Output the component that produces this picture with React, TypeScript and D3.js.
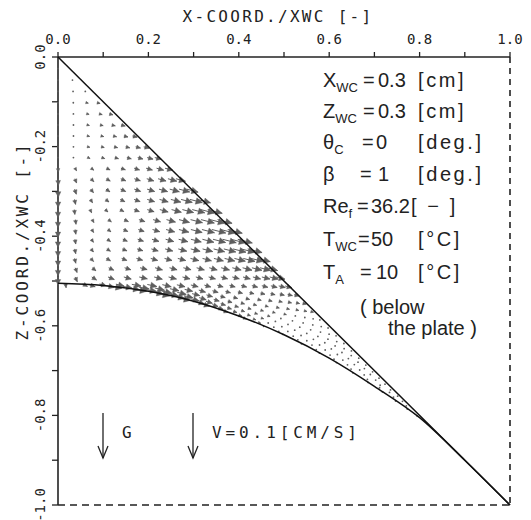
import React from "react";
import * as d3 from "d3";

const W = 531;
const H = 520;

// axis ticks
const xMajor = [0, 0.2, 0.4, 0.6, 0.8, 1.0];
const xMajorLabels = ["0.0", "0.2", "0.4", "0.6", "0.8", "1.0"];
const xMinor = [0.1, 0.3, 0.5, 0.7, 0.9];
const zMajor = [0, -0.2, -0.4, -0.6, -0.8, -1.0];
const zMajorLabels = ["0.0", "-0.2", "-0.4", "-0.6", "-0.8", "-1.0"];
const zMinor = [-0.1, -0.3, -0.5, -0.7, -0.9];

// geometry: plate (straight) and free surface below it
const plateX = [0, 1];
const plateZ = [0, -1];
const surfX = [0, 0.1, 0.2, 0.3, 0.4, 0.5, 0.6, 0.7, 0.8, 0.9, 1.0];
const surfZ = [-0.505, -0.51, -0.523, -0.545, -0.578, -0.62, -0.672, -0.735, -0.805, -0.9, -1.0];
const contactX = 0.808;
const axisBottomZ = -0.505;

// parameter block
const paramNames = ["X", "Z", "θ", "β", "Re", "T", "T"];
const paramSubs = ["WC", "WC", "C", "", "f", "WC", "A"];
const paramValues = ["0.3", "0.3", "0", "1", "36.2", "50", "10"];
const paramUnits = ["[cm]", "[cm]", "[deg.]", "[deg.]", "[ − ]", "[°C]", "[°C]"];
const noteLines = ["( below", "the plate )"];

const xTitle = "X-COORD./XWC [-]";
const zTitle = "Z-COORD./XWC [-]";
const gLabel = "G";
const vLabel = "V=0.1[CM/S]";

const x = d3.scaleLinear().domain([0, 1]).range([58, 510]);
const z = d3.scaleLinear().domain([0, -1]).range([57, 505]);

const surfInterp = (xx: number) => {
  for (let i = 0; i < surfX.length - 1; i++) {
    if (xx <= surfX[i + 1]) {
      const t = (xx - surfX[i]) / (surfX[i + 1] - surfX[i]);
      return surfZ[i] + t * (surfZ[i + 1] - surfZ[i]);
    }
  }
  return surfZ[surfZ.length - 1];
};
const smooth = (a: number, b: number, v: number) => {
  const t = Math.max(0, Math.min(1, (v - a) / (b - a)));
  return t * t * (3 - 2 * t);
};

// velocity estimate (px on screen, dy positive downwards)
function velocity(px: number, pz: number) {
  const depth = -pz;
  const wAx = Math.exp(-px / 0.07);
  const axisAmp = 8 * smooth(0.2, 0.3, depth) * (1 - smooth(0.49, 0.53, depth));
  let vx = 0;
  let vy = axisAmp * wAx;
  const u = depth > 0 ? Math.min(1, px / depth) : 0;
  const plateAmp =
    12 * Math.exp(-Math.pow((depth - 0.38) / 0.12, 2)) +
    5 * (1 - smooth(0.45, 0.62, depth)) * smooth(0, 0.14, depth);
  const floor = 0.3 * (1 - smooth(0.27, 0.35, depth));
  const mp = plateAmp * (floor + (1 - floor) * Math.pow(u, 1.6)) * (1 - 0.85 * wAx);
  const ap = (14 * Math.PI) / 180;
  vx += mp * Math.cos(ap);
  vy += mp * Math.sin(ap);
  const ds = pz - surfInterp(px);
  const S = 10 * Math.exp(-Math.pow((px - 0.2) / 0.17, 2)) * smooth(0.0, 0.06, px);
  const ms = S * Math.exp(-Math.max(0, ds) / 0.07);
  const slope = (surfInterp(px + 0.01) - surfInterp(Math.max(0, px - 0.01))) / 0.02;
  const as = Math.atan2(-slope, 1);
  vx += ms * Math.cos(as);
  vy += ms * Math.sin(as);
  return [vx, vy];
}

type Arrow = { x: number; y: number; dx: number; dy: number };

function buildField(): Arrow[] {
  const out: Arrow[] = [];
  const NR = 42;
  for (let k = 1; k < NR; k++) {
    const t = 1 - Math.pow(1 - k / NR, 1.35);
    const zp = -contactX * t;
    const P = [-zp, zp];
    let L: number[];
    if (-zp <= -axisBottomZ) L = [0, zp];
    else {
      const f = (-zp + axisBottomZ) / (contactX + axisBottomZ);
      const xl = contactX * f;
      L = [xl, surfInterp(xl)];
    }
    const len = Math.hypot(P[0] - L[0], P[1] - L[1]);
    const n = Math.floor(len / 0.028);
    for (let i = 0; i <= n; i++) {
      const u = 1 - Math.pow(1 - i / (n + 1), 1.4);
      const px = L[0] + u * (P[0] - L[0]);
      const pz = L[1] + u * (P[1] - L[1]);
      const [vx, vy] = velocity(px, pz);
      out.push({ x: x(px), y: z(pz), dx: vx, dy: vy });
    }
  }
  return out;
}

const ARROW = "#5e5e5e";

function ArrowGlyph({ a }: { a: Arrow }) {
  let len = Math.hypot(a.dx, a.dy);
  if (len < 1.6) return <circle cx={a.x} cy={a.y} r={0.9} fill={ARROW} />;
  const k = Math.min(1, 15 / len);
  const dx = a.dx * k;
  const dy = a.dy * k;
  len = Math.min(len, 15);
  const ux = dx / len;
  const uy = dy / len;
  const tx = a.x + dx;
  const ty = a.y + dy;
  const h = Math.min(6.5, 1.8 + len * 0.45);
  const hw = h * 0.5;
  const bx = tx - ux * h;
  const by = ty - uy * h;
  const pts = `${tx},${ty} ${bx - uy * hw},${by + ux * hw} ${bx + uy * hw},${by - ux * hw}`;
  return (
    <g>
      <line x1={a.x} y1={a.y} x2={tx} y2={ty} stroke={ARROW} strokeWidth={1} />
      <polygon points={pts} fill={ARROW} stroke={ARROW} strokeWidth={0.4} />
    </g>
  );
}

export default function App() {
  const field = buildField();
  const line = d3
    .line<[number, number]>()
    .x((d) => x(d[0]))
    .y((d) => z(d[1]))
    .curve(d3.curveMonotoneX);
  const surfPath = line(surfX.map((v, i) => [v, surfZ[i]] as [number, number])) || "";
  const platePath = line(plateX.map((v, i) => [v, plateZ[i]] as [number, number])) || "";
  const mono = "'DejaVu Sans Mono', monospace";
  const sans = "'Liberation Sans', Arial, sans-serif";
  const rowY = [80, 111, 142, 174, 206, 239, 272];
  const eqX = [363, 363, 362, 360, 357, 358, 360];
  const valX = [378, 378, 376, 378, 371, 371, 376];
  const unitX = [418, 418, 418, 418, 411, 418, 418];
  const fs = 20;
  return (
    <svg width={W} height={H} style={{ position: "absolute", left: 0, top: 0, background: "#fff" }}>
      <rect width={W} height={H} fill="#fff" />
      {/* frame */}
      <line x1={x(0)} y1={z(0)} x2={x(1)} y2={z(0)} stroke="#222" strokeWidth={1.6} />
      <line x1={x(0)} y1={z(0)} x2={x(0)} y2={z(-1)} stroke="#222" strokeWidth={1.6} />
      <line x1={x(1)} y1={z(0)} x2={x(1)} y2={z(-1)} stroke="#222" strokeWidth={1.6} strokeDasharray="6 5" />
      <line x1={x(0)} y1={z(-1)} x2={x(1)} y2={z(-1)} stroke="#222" strokeWidth={1.6} strokeDasharray="7 5" />
      {/* top ticks */}
      {[...xMajor, ...xMinor].map((v, i) => (
        <line key={"xt" + i} x1={x(v)} x2={x(v)} y1={z(0)} y2={z(0) - 5} stroke="#222" strokeWidth={1.3} />
      ))}
      {xMajor.map((v, i) => (
        <text key={"xl" + i} x={x(v)} y={44} textAnchor="middle" fontFamily={mono} fontSize={14} fill="#222">
          {xMajorLabels[i]}
        </text>
      ))}
      {/* left ticks */}
      {[...zMajor, ...zMinor].map((v, i) => (
        <line key={"zt" + i} x1={x(0)} x2={x(0) - 6} y1={z(v)} y2={z(v)} stroke="#222" strokeWidth={1.3} />
      ))}
      {zMajor.map((v, i) => (
        <text
          key={"zl" + i}
          transform={`translate(45,${z(v)}) rotate(-90)`}
          textAnchor="middle"
          fontFamily={mono}
          fontSize={14}
          fill="#222"
        >
          {zMajorLabels[i]}
        </text>
      ))}
      {/* titles */}
      <text x={278} y={22} textAnchor="middle" fontFamily={mono} fontSize={16} letterSpacing={2.3} fill="#222">
        {xTitle}
      </text>
      <text
        transform="translate(28,241) rotate(-90)"
        textAnchor="middle"
        fontFamily={mono}
        fontSize={16}
        letterSpacing={2.8}
        fill="#222"
      >
        {zTitle}
      </text>
      {/* vector field */}
      {field.map((a, i) => (
        <ArrowGlyph key={"a" + i} a={a} />
      ))}
      {/* plate and surface */}
      <path d={platePath} fill="none" stroke="#111" strokeWidth={1.5} />
      <path d={surfPath} fill="none" stroke="#111" strokeWidth={1.5} />
      {/* parameter block */}
      {paramNames.map((nm, i) => (
        <g key={"p" + i} fontFamily={sans} fill="#222">
          <text x={323} y={rowY[i] + 7} fontSize={fs}>
            {nm}
            {paramSubs[i] && (
              <tspan fontSize={13} dy={5}>
                {paramSubs[i]}
              </tspan>
            )}
          </text>
          <text x={eqX[i]} y={rowY[i] + 7} fontSize={fs}>=</text>
          <text x={valX[i]} y={rowY[i] + 7} fontSize={fs}>{paramValues[i]}</text>
          <text x={unitX[i]} y={rowY[i] + 7} fontSize={fs} letterSpacing={2.6}>{paramUnits[i]}</text>
        </g>
      ))}
      <text x={360} y={314} fontFamily={sans} fontSize={fs} fill="#222">{noteLines[0]}</text>
      <text x={388} y={335} fontFamily={sans} fontSize={fs} fill="#222">{noteLines[1]}</text>
      {/* gravity and velocity scale */}
      <g stroke="#222" strokeWidth={1.3} fill="none">
        <line x1={103} y1={413} x2={103} y2={458} />
        <polyline points="98,446 103,458 108,446" />
        <line x1={193} y1={413} x2={193} y2={458} />
        <polyline points="188,446 193,458 198,446" />
      </g>
      <text x={122} y={438} fontFamily={mono} fontSize={16} fill="#222">{gLabel}</text>
      <text x={212} y={438} fontFamily={mono} fontSize={16} letterSpacing={3.9} fill="#222">{vLabel}</text>
    </svg>
  );
}
